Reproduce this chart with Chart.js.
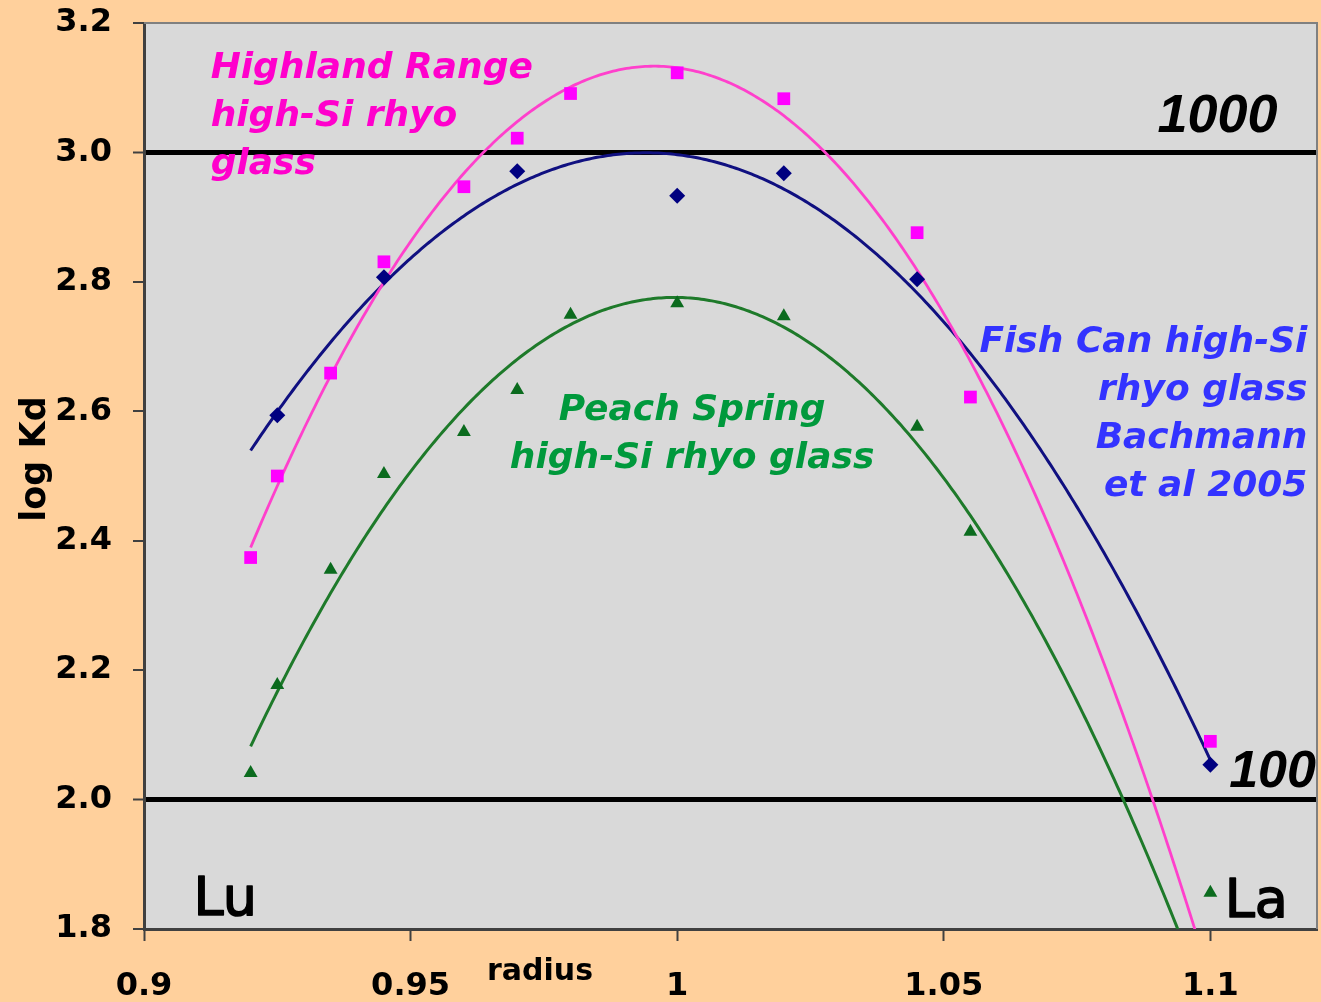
<!DOCTYPE html>
<html>
<head>
<meta charset="utf-8">
<title>log Kd vs radius</title>
<script src="https://cdn.jsdelivr.net/npm/chart.js@4/dist/chart.umd.min.js"></script>
<style>
  html, body { margin: 0; padding: 0; background: #FFD09C; }
  canvas { display: block; }
</style>
</head>
<body>
<canvas id="chart" width="1321" height="1002"></canvas>
<script>
// ---- measured partition coefficients (log Kd) against ionic radius ----
// Highland Range high-Si rhyolite glass
const highlandRadius = [0.92, 0.925, 0.935, 0.945, 0.96, 0.97, 0.98, 1.0, 1.02, 1.045, 1.055];
const highlandLogKd  = [2.374, 2.50, 2.659, 2.831, 2.947, 3.022, 3.091, 3.123, 3.083, 2.876, 2.622];
// Fish Can high-Si rhyolite glass (Bachmann et al 2005)
const fishCanRadius  = [0.925, 0.945, 0.97, 1.0, 1.02, 1.045, 1.1];
const fishCanLogKd   = [2.594, 2.807, 2.971, 2.933, 2.968, 2.804, 2.054];
// Peach Spring high-Si rhyolite glass
const peachRadius    = [0.92, 0.925, 0.935, 0.945, 0.96, 0.97, 0.98, 1.0, 1.02, 1.045, 1.055];
const peachLogKd     = [2.041, 2.177, 2.355, 2.503, 2.568, 2.633, 2.749, 2.767, 2.747, 2.576, 2.414];
// La values plotted without being part of the parabola fits
const laRadius       = [1.1];
const highlandLaLogKd = [2.090];
const peachLaLogKd    = [1.856];

// fit range of the parabolas
const fitRange = [0.92, 1.1];

// axis ticks
const xTickValues = [0.9, 0.95, 1, 1.05, 1.1];
const xTickLabels = ['0.9', '0.95', '1', '1.05', '1.1'];
const yTickValues = [1.8, 2.0, 2.2, 2.4, 2.6, 2.8, 3.0, 3.2];
const yTickLabels = ['1.8', '2.0', '2.2', '2.4', '2.6', '2.8', '3.0', '3.2'];
// Kd = 100 and Kd = 1000 reference levels
const referenceLevels = [2.0, 3.0];

const FONT = '"DejaVu Sans", Verdana, sans-serif';
const ARIAL = '"Liberation Sans", Arial, sans-serif';

function toPoints(xs, ys) {
  return xs.map((x, i) => ({ x: x, y: ys[i] }));
}

// least-squares second order polynomial, returned as a function of x
function quadraticFit(xs, ys) {
  const n = xs.length;
  const mean = xs.reduce((s, v) => s + v, 0) / n;
  const S = [0, 0, 0, 0, 0], T = [0, 0, 0];
  for (let i = 0; i < n; i++) {
    const t = xs[i] - mean;
    let p = 1;
    for (let k = 0; k < 5; k++) {
      S[k] += p;
      if (k < 3) T[k] += p * ys[i];
      p *= t;
    }
  }
  const M = [
    [S[0], S[1], S[2], T[0]],
    [S[1], S[2], S[3], T[1]],
    [S[2], S[3], S[4], T[2]]
  ];
  for (let c = 0; c < 3; c++) {
    let piv = c;
    for (let r = c + 1; r < 3; r++) if (Math.abs(M[r][c]) > Math.abs(M[piv][c])) piv = r;
    [M[c], M[piv]] = [M[piv], M[c]];
    for (let r = 0; r < 3; r++) {
      if (r === c) continue;
      const f = M[r][c] / M[c][c];
      for (let k = c; k < 4; k++) M[r][k] -= f * M[c][k];
    }
  }
  const a = M[0][3] / M[0][0], b = M[1][3] / M[1][1], c2 = M[2][3] / M[2][2];
  return x => a + b * (x - mean) + c2 * (x - mean) * (x - mean);
}

function trendPoints(xs, ys) {
  const f = quadraticFit(xs, ys);
  const pts = [];
  const steps = 360;
  for (let i = 0; i <= steps; i++) {
    const x = fitRange[0] + (fitRange[1] - fitRange[0]) * i / steps;
    pts.push({ x: x, y: f(x) });
  }
  return pts;
}

// text placed inside the plot, anchored in axis units
const notes = [
  { lines: ['Highland Range', 'high-Si rhyo', 'glass'], x: 0.9125, y: 3.1146, align: 'left',
    color: '#FF00CC', font: `italic bold 36px ${FONT}`, lineHeight: 48 },
  { lines: ['1000'], x: 1.1126, y: 3.031, align: 'right',
    color: '#000000', font: `italic bold 54px ${ARIAL}`, lineHeight: 54 },
  { lines: ['Fish Can high-Si', 'rhyo glass', 'Bachmann', 'et al 2005'], x: 1.1182, y: 2.6915, align: 'right',
    color: '#3333FF', font: `italic bold 36px ${FONT}`, lineHeight: 48 },
  { lines: ['Peach Spring', 'high-Si rhyo glass'], x: 1.0028, y: 2.5865, align: 'center',
    color: '#00993C', font: `italic bold 36px ${FONT}`, lineHeight: 48 },
  { lines: ['100'], x: 1.1198, y: 2.0198, align: 'right',
    color: '#000000', font: `italic bold 52px ${ARIAL}`, lineHeight: 52 },
  { lines: ['Lu'], x: 0.9093, y: 1.8222, align: 'left',
    color: '#000000', font: `54px ${FONT}`, lineHeight: 54, heavy: true },
  { lines: ['La'], x: 1.1027, y: 1.8192, align: 'left',
    color: '#000000', font: `54px ${FONT}`, lineHeight: 54, heavy: true }
];

const plotFrame = {
  id: 'plotFrame',
  beforeDraw(chart) {
    const { ctx, chartArea: a } = chart;
    ctx.save();
    ctx.fillStyle = '#D9D9D9';
    ctx.fillRect(a.left, a.top, a.right - a.left, a.bottom - a.top);
    ctx.restore();
  },
  afterDraw(chart) {
    const { ctx, chartArea: a } = chart;
    ctx.save();
    ctx.strokeStyle = '#808080';
    ctx.lineWidth = 2;
    ctx.beginPath();
    ctx.moveTo(a.left, a.top);
    ctx.lineTo(a.right, a.top);
    ctx.lineTo(a.right, a.bottom);
    ctx.stroke();
    ctx.restore();
  }
};

const textLayer = {
  id: 'textLayer',
  afterDatasetsDraw(chart) {
    const { ctx, scales: { x, y } } = chart;
    ctx.save();
    ctx.textBaseline = 'alphabetic';
    notes.forEach(n => {
      ctx.font = n.font;
      ctx.fillStyle = n.color;
      ctx.strokeStyle = n.color;
      ctx.lineWidth = 1.6;
      ctx.lineJoin = 'round';
      ctx.textAlign = n.align;
      const px = x.getPixelForValue(n.x);
      const py = y.getPixelForValue(n.y);
      n.lines.forEach((t, i) => {
        ctx.fillText(t, px, py + i * n.lineHeight);
        if (n.heavy) ctx.strokeText(t, px, py + i * n.lineHeight);
      });
    });
    // axis titles
    ctx.fillStyle = '#000000';
    ctx.font = `bold 30px ${FONT}`;
    ctx.textAlign = 'center';
    ctx.fillText('radius', 540, 980);
    ctx.translate(45, 459);
    ctx.rotate(-Math.PI / 2);
    ctx.font = `bold 35px ${FONT}`;
    ctx.fillText('log Kd', 0, 0);
    ctx.restore();
  }
};

function clearScalePadding(s) {
  s.paddingLeft = 0; s.paddingRight = 0; s.paddingTop = 0; s.paddingBottom = 0;
}

new Chart(document.getElementById('chart'), {
  type: 'scatter',
  data: {
    datasets: [
      { label: 'Highland Range', data: toPoints(highlandRadius, highlandLogKd),
        pointStyle: 'rect', pointRadius: 9, backgroundColor: '#FF00FF', borderWidth: 0 },
      { label: 'Highland Range La', data: toPoints(laRadius, highlandLaLogKd),
        pointStyle: 'rect', pointRadius: 9, backgroundColor: '#FF00FF', borderWidth: 0 },
      { label: 'Fish Can', data: toPoints(fishCanRadius, fishCanLogKd),
        pointStyle: 'rectRot', pointRadius: 8, backgroundColor: '#000080', borderWidth: 0 },
      { label: 'Peach Spring', data: toPoints(peachRadius, peachLogKd),
        pointStyle: 'triangle', pointRadius: 8, backgroundColor: '#0B6B1E', borderWidth: 0 },
      { label: 'Peach Spring La', data: toPoints(laRadius, peachLaLogKd),
        pointStyle: 'triangle', pointRadius: 8, backgroundColor: '#0B6B1E', borderWidth: 0 },
      { label: 'Highland Range fit', data: trendPoints(highlandRadius, highlandLogKd),
        showLine: true, pointRadius: 0, borderColor: '#FF40CC', borderWidth: 2.8 },
      { label: 'Fish Can fit', data: trendPoints(fishCanRadius, fishCanLogKd),
        showLine: true, pointRadius: 0, borderColor: '#101080', borderWidth: 3 },
      { label: 'Peach Spring fit', data: trendPoints(peachRadius, peachLogKd),
        showLine: true, pointRadius: 0, borderColor: '#1E7A2A', borderWidth: 3 }
    ]
  },
  options: {
    responsive: false,
    animation: false,
    events: [],
    layout: { autoPadding: false, padding: { top: 23, right: 4, left: 0, bottom: 0 } },
    plugins: { legend: { display: false }, tooltip: { enabled: false } },
    scales: {
      x: {
        type: 'linear',
        min: 0.9,
        max: 1.12,
        afterBuildTicks: s => { s.ticks = xTickValues.map(v => ({ value: v })); },
        afterFit: s => { s.height = 73; clearScalePadding(s); },
        ticks: {
          callback: v => xTickLabels[xTickValues.indexOf(v)] ?? '',
          color: '#000000',
          font: { family: FONT, size: 32, weight: 'bold' },
          padding: 26,
          maxRotation: 0,
          autoSkip: false
        },
        grid: { drawOnChartArea: false, tickLength: 12, tickColor: '#404040', tickWidth: 2 },
        border: { display: true, color: '#404040', width: 3 }
      },
      y: {
        type: 'linear',
        min: 1.8,
        max: 3.2,
        afterBuildTicks: s => { s.ticks = yTickValues.map(v => ({ value: v })); },
        afterFit: s => { s.width = 144; clearScalePadding(s); },
        ticks: {
          callback: v => yTickLabels[yTickValues.indexOf(v)] ?? '',
          color: '#000000',
          font: { family: FONT, size: 32, weight: 'bold' },
          padding: 21,
          autoSkip: false
        },
        grid: {
          color: c => referenceLevels.some(r => Math.abs(r - c.tick.value) < 1e-9) ? '#000000' : 'rgba(0,0,0,0)',
          lineWidth: c => referenceLevels.some(r => Math.abs(r - c.tick.value) < 1e-9) ? 5 : 0,
          tickLength: 11,
          tickColor: '#404040',
          tickWidth: 2
        },
        border: { display: true, color: '#404040', width: 3 }
      }
    }
  },
  plugins: [plotFrame, textLayer]
});
</script>
</body>
</html>
